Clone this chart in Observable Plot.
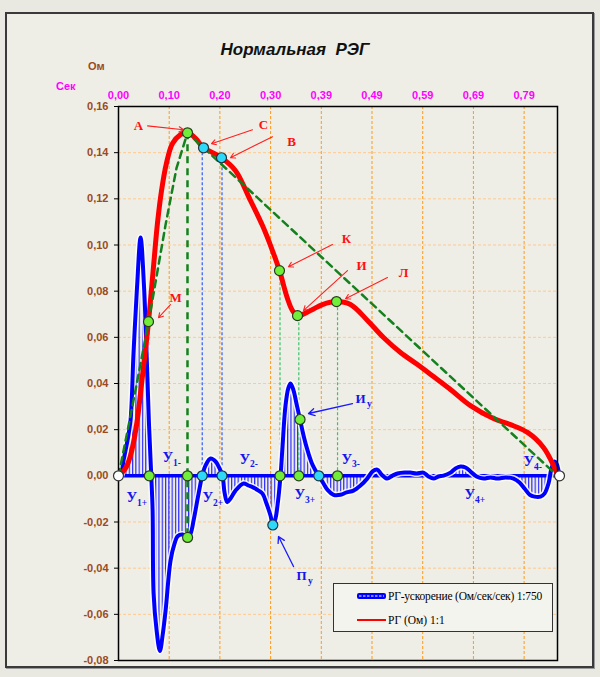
<!DOCTYPE html>
<html><head><meta charset="utf-8">
<script src="https://cdn.jsdelivr.net/npm/d3@7"></script>
<script src="https://cdn.jsdelivr.net/npm/@observablehq/plot@0.6"></script>
<style>
html,body{margin:0;padding:0;background:#e9e9e1;}
#wrap{position:relative;width:600px;height:677px;overflow:hidden;font-family:"Liberation Sans",Arial,sans-serif;}
#frame{position:absolute;left:5px;top:12px;width:589px;height:656px;box-sizing:border-box;border:2px solid #3a3a3a;background:#eeeee6;box-shadow:1px 1px 0 #9a9a9a;}
#chart{position:absolute;left:0;top:0;}
.t{position:absolute;white-space:nowrap;font-weight:bold;line-height:1;}
#legend{position:absolute;left:333px;top:583px;width:220px;height:49px;box-sizing:border-box;border:1.5px solid #333;background:#f4f4ee;font-family:"Liberation Serif","Times New Roman",serif;font-size:11.5px;color:#000;}
#legend .row{position:absolute;left:22px;display:flex;align-items:center;height:14px;white-space:nowrap;}
</style></head>
<body>
<div id="wrap">
  <div id="frame"></div>
  <div id="chart"></div>
  <div class="t" style="left:0;width:590px;text-align:center;top:41px;font-size:17px;font-style:italic;color:#111;">Нормальная&nbsp; РЭГ</div>
  <div class="t" style="left:88px;top:61px;font-size:11px;color:#9a4a1e;">Ом</div>
  <div class="t" style="left:56px;top:81px;font-size:11px;color:#ff00ff;">Сек</div>
  <div id="legend">
    <div class="row" style="top:5px;"><svg width="31" height="10"><rect x="1" y="2" width="29" height="6" rx="2" fill="#0000ff"/><line x1="3" y1="5" x2="28" y2="5" stroke="#fff" stroke-width="1.2" stroke-dasharray="2.5,1.5"/></svg><span style="margin-left:1px;letter-spacing:-0.2px">РГ-ускорение (Ом/сек/сек) 1:750</span></div>
    <div class="row" style="top:29px;"><svg width="31" height="10"><line x1="1" y1="5" x2="30" y2="5" stroke="#ff0000" stroke-width="2"/></svg><span style="margin-left:1px">РГ (Ом) 1:1</span></div>
  </div>
</div>
<script>
// ---- data (time in seconds, values in Ohm axis units) ----
const xTicks = [0, 0.0987, 0.1974, 0.2961, 0.3948, 0.4935, 0.5922, 0.6909, 0.7896];
const yTicks = [-0.08, -0.06, -0.04, -0.02, 0, 0.02, 0.04, 0.06, 0.08, 0.10, 0.12, 0.14, 0.16];

// РГ (Ом) 1:1
const regCurve = [
  [0,0],[0.0136,0.0032],[0.0234,0.0088],[0.035,0.0218],[0.0467,0.0434],[0.0584,0.0668],
  [0.0681,0.0905],[0.0759,0.1095],[0.0837,0.1235],[0.0934,0.1355],[0.1051,0.1440],
  [0.1207,0.1478],[0.1343,0.1489],[0.150,0.1462],[0.1655,0.1421],[0.183,0.140],
  [0.2005,0.1378],[0.2278,0.1322],[0.257,0.1192],[0.2803,0.1084],[0.2998,0.0975],
  [0.3134,0.0889],[0.329,0.0768],[0.3387,0.0716],[0.3485,0.0694],[0.3738,0.0716],
  [0.3971,0.0742],[0.4244,0.0755],[0.4516,0.0742],[0.4847,0.0673],[0.5159,0.0599],
  [0.549,0.0534],[0.582,0.0482],[0.6132,0.043],[0.6463,0.0374],[0.6852,0.0304],
  [0.73,0.0248],[0.7631,0.0222],[0.7962,0.0188],[0.8273,0.0123],[0.8468,0.0045],[0.8546,0.0001]
];

// РГ-ускорение (Ом/сек/сек) 1:750
const accCurve = [
  [0,0],[0.004,-0.0003],[0.0097,0.0066],[0.0175,0.0153],[0.0234,0.0239],[0.0292,0.0529],
  [0.036,0.0815],[0.043,0.1032],[0.0498,0.0815],[0.0547,0.0529],[0.0591,0.0239],
  [0.0638,0],[0.0664,-0.015],[0.0683,-0.0509],[0.0742,-0.067],[0.0806,-0.0759],
  [0.0858,-0.0692],[0.0917,-0.0583],[0.1014,-0.0366],[0.1092,-0.0293],[0.115,-0.0262],
  [0.1247,-0.0254],[0.1345,-0.0267],[0.1403,-0.025],[0.1462,-0.0193],[0.1559,-0.0077],
  [0.163,0],[0.1695,0.0045],[0.1792,0.0075],[0.189,0.0062],[0.1967,0.0032],[0.2025,0],
  [0.2064,-0.0072],[0.2116,-0.0114],[0.2181,-0.0098],[0.2278,-0.0064],[0.2434,-0.0033],
  [0.2531,-0.0042],[0.2628,-0.0051],[0.2725,-0.0064],[0.2803,-0.0077],[0.2881,-0.012],
  [0.2959,-0.0172],[0.3004,-0.0213],[0.3056,-0.0185],[0.3095,-0.0129],[0.3154,0],
  [0.3193,0.0127],[0.3251,0.0305],[0.331,0.0383],[0.3349,0.04],[0.3407,0.037],
  [0.3465,0.0313],[0.3534,0.0244],[0.3602,0.0175],[0.368,0.011],[0.3758,0.0058],
  [0.3835,0.0023],[0.3899,0],[0.3972,-0.0026],[0.4069,-0.0061],[0.4186,-0.0082],
  [0.4322,-0.0082],[0.4439,-0.0072],[0.4575,-0.0064],[0.4711,-0.0042],[0.4842,-0.0012],
  [0.4945,0.0019],[0.5037,0.0027],[0.512,0.0006],[0.5231,-0.0012],[0.5334,0.0001],
  [0.5431,0.001],[0.5568,0.0014],[0.5684,0.0014],[0.5801,0.001],[0.5937,0.0014],
  [0.6035,-0.0003],[0.6132,-0.0012],[0.6229,-0.0003],[0.6327,0.0001],[0.6463,0.0014],
  [0.656,0.0032],[0.6658,0.004],[0.6755,0.0036],[0.6852,0.0019],[0.6969,-0.0003],
  [0.7105,-0.0012],[0.7242,-0.0007],[0.7378,-0.0012],[0.7534,-0.0007],[0.769,-0.0012],
  [0.7806,-0.0029],[0.7904,-0.0055],[0.8001,-0.0081],[0.8098,-0.009],[0.8215,-0.009],
  [0.8293,-0.0077],[0.8371,-0.0033],[0.8429,0.0032],[0.8488,0.0062],[0.8527,0.0053],
  [0.8566,0.0023],[0.8585,0]
];

// dashed triangle (green)
const triangle = [[0,0],[0.0234,0.026],[0.0584,0.0664],[0.0915,0.1086],[0.1129,0.1333],[0.1343,0.1486],[0.8546,0]];
const peakDrop = [{t:0.1343, v1:0.1486, v2:-0.0267}];

// thin drop lines: [t, top value, kind]
const dropLines = [
  [0.060,0.0668,"g"],[0.163,0.1421,"b"],[0.2015,0.1378,"b"],
  [0.3144,0.0889,"g"],[0.351,0.0694,"g"],[0.4264,0.0755,"g"]
];

// markers
const greenPts = [
  [0.0584,0.0668],[0.1343,0.1486],[0.3134,0.0889],[0.3485,0.0694],[0.4244,0.0755],
  [0.060,0],[0.1343,0],[0.3144,0],[0.351,0],[0.4264,0],[0.1345,-0.0267],[0.3534,0.0244]
];
const cyanPts = [[0.1655,0.1421],[0.2005,0.1378],[0.163,0],[0.2015,0],[0.3899,0],[0.3004,-0.0213]];
const whitePts = [[0,0],[0.8585,0]];

// red point labels and arrows
const redLabels = [
  ["А",0.0389,0.1516],["С",0.2823,0.1521],["В",0.3368,0.1447],["К",0.4438,0.1027],
  ["И",0.473,0.091],["Л",0.5548,0.088],["М",0.111,0.0772]
];
const redArrows = [
  [0.0565,0.1516,0.1265,0.1499],[0.2609,0.1499,0.181,0.1439],[0.2998,0.1469,0.218,0.1378],
  [0.4166,0.1002,0.3309,0.0906],[0.4458,0.0889,0.3601,0.0716],[0.5236,0.0859,0.4419,0.0767],
  [0.1012,0.0742,0.0779,0.0685]
];
// blue area labels: [base, subscript, t, v]
const uLabels = [
  ["У","1+",0.0156,-0.0094],["У","1-",0.0857,0.0079],["У","2+",0.1635,-0.0094],
  ["У","2-",0.2355,0.0071],["У","3+",0.3426,-0.0081],["У","3-",0.4341,0.0071],
  ["У","4+",0.6735,-0.0081],["У","4-",0.7884,0.0062]
];
const pointSubLabels = [["И","у",0.4613,0.0335],["П","у",0.3465,-0.0432]];
const blueArrows = [[0.4555,0.0313,0.3699,0.027],[0.3407,-0.0393,0.3115,-0.0263]];

// ---- build ----
const P = a => ({t:a[0], v:a[1]});
const reg = regCurve.map(P), acc = accCurve.map(P), tri = triangle.map(P);
const fmt = d => d.toFixed(2).replace(".", ",");
const serif = "Liberation Serif, Times New Roman, serif";
const sans = "Liberation Sans, Arial, sans-serif";
const blueTxt = {textAnchor: "start", fill: "#1414ee", fontFamily: serif, fontWeight: "bold"};

const chart = Plot.plot({
  width: 600, height: 677,
  marginLeft: 118, marginRight: 43, marginTop: 106, marginBottom: 17,
  style: {background: "transparent", overflow: "visible", fontFamily: sans},
  x: {domain: [0, 0.8546], label: null},
  y: {domain: [-0.08, 0.16], label: null},
  marks: [
    Plot.gridY(yTicks, {stroke: "#ffc98f", strokeOpacity: 1, strokeDasharray: "3,2"}),
    Plot.gridX(xTicks.slice(1), {stroke: "#ff9a1a", strokeOpacity: 1, strokeDasharray: "3,2"}),
    Plot.axisY(yTicks, {tickFormat: fmt, tickSize: 4, tickPadding: 6, fill: "#9a4a1e", stroke: "#000", fontWeight: "bold", fontSize: 11}),
    Plot.axisX(xTicks, {anchor: "top", tickFormat: fmt, tickSize: 0, tickPadding: 8, fill: "#ff00ff", fontWeight: "bold", fontSize: 11}),
    Plot.areaY(acc, {x: "t", y: "v", fill: "url(#hatch)", curve: "catmull-rom"}),
    Plot.ruleY([0], {stroke: "#0000ff", strokeWidth: 3.5}),
    Plot.ruleX(dropLines, {x: d => d[0], y1: 0, y2: d => d[1], stroke: d => d[2] === "g" ? "#3cc36a" : "#2f5cff", strokeWidth: 1.2, strokeDasharray: "3,2"}),
    Plot.line(acc, {x: "t", y: "v", stroke: "#ffffff", strokeOpacity: 0.85, strokeWidth: 7, curve: "catmull-rom"}),
    Plot.line(acc, {x: "t", y: "v", stroke: "#0000ff", strokeWidth: 4, curve: "catmull-rom"}),
    Plot.line(reg, {x: "t", y: "v", stroke: "#ff0000", strokeWidth: 5, curve: "catmull-rom"}),
    Plot.line(tri, {x: "t", y: "v", stroke: "#14801e", strokeWidth: 2.5, strokeDasharray: "7,5"}),
    Plot.ruleX(peakDrop, {x: "t", y1: "v1", y2: "v2", stroke: "#14801e", strokeWidth: 2.5, strokeDasharray: "7,5"}),
    Plot.frame({stroke: "#000", strokeWidth: 1.5}),
    Plot.dot(greenPts, {x: d => d[0], y: d => d[1], r: 5, fill: "#70ee3a", stroke: "#2a3a22", strokeWidth: 1.2}),
    Plot.dot(cyanPts, {x: d => d[0], y: d => d[1], r: 5, fill: "#2fd8f8", stroke: "#1d3640", strokeWidth: 1.2}),
    Plot.dot(whitePts, {x: d => d[0], y: d => d[1], r: 5, fill: "#ffffff", stroke: "#333", strokeWidth: 1.2}),
    Plot.arrow(redArrows, {x1: d => d[0], y1: d => d[1], x2: d => d[2], y2: d => d[3], stroke: "#ff2020", strokeWidth: 1.1, headLength: 7}),
    Plot.arrow(blueArrows, {x1: d => d[0], y1: d => d[1], x2: d => d[2], y2: d => d[3], stroke: "#1a1aff", strokeWidth: 1.3, headLength: 8}),
    Plot.text(redLabels, {x: d => d[1], y: d => d[2], text: d => d[0], fill: "#ff1010", fontFamily: serif, fontWeight: "bold", fontSize: 13}),
    Plot.text(uLabels, {x: d => d[2], y: d => d[3], text: d => d[0], fontSize: 14.5, ...blueTxt}),
    Plot.text(uLabels, {x: d => d[2], y: d => d[3], text: d => d[1], dx: 10.5, dy: 5, fontSize: 9.5, ...blueTxt}),
    Plot.text(pointSubLabels, {x: d => d[2], y: d => d[3], text: d => d[0], fontSize: 13, ...blueTxt}),
    Plot.text(pointSubLabels, {x: d => d[2], y: d => d[3], text: d => d[1], dx: 11.5, dy: 5, fontSize: 9.5, ...blueTxt})
  ]
});

// hatch pattern for the acceleration area
const ns = "http://www.w3.org/2000/svg";
const defs = document.createElementNS(ns, "defs");
const pat = document.createElementNS(ns, "pattern");
pat.setAttribute("id", "hatch");
pat.setAttribute("patternUnits", "userSpaceOnUse");
pat.setAttribute("width", "3.3");
pat.setAttribute("height", "20");
const ln = document.createElementNS(ns, "line");
ln.setAttribute("x1", "0.6"); ln.setAttribute("x2", "0.6");
ln.setAttribute("y1", "0"); ln.setAttribute("y2", "20");
ln.setAttribute("stroke", "#1a1aff"); ln.setAttribute("stroke-width", "1.1");
pat.appendChild(ln); defs.appendChild(pat);
chart.insertBefore(defs, chart.firstChild);

document.getElementById("chart").appendChild(chart);
</script>
</body></html>
